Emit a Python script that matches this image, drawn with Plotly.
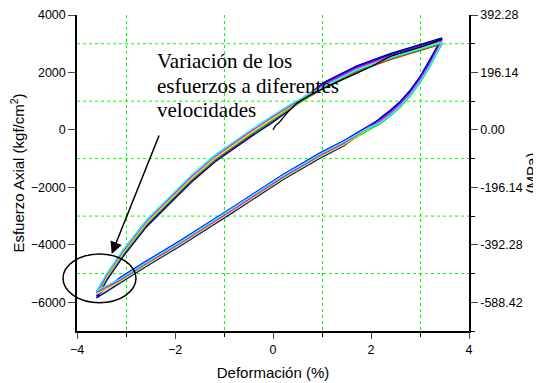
import plotly.graph_objects as go

# ---- data ----
# shared strain path of one cycle: unloading from the top tip, then reloading
loop_x = [3.45, 3.30, 3.20, 3.00, 2.80, 2.60, 2.40, 2.20, 2.00, 1.44, 0.96, 0.21, -0.81, -1.90, -2.58, -3.12, -3.60,
          -3.48, -3.39, -3.06, -2.58, -2.10, -1.66, -1.18, -0.47, 0.00, 0.35, 1.03, 1.71, 2.39, 3.07, 3.45]

stress_red = [3000, 2570, 2220, 1670, 1200, 820, 510, 250, 70, -490, -910, -1654, -2790, -3974, -4671, -5253, -5680,
              -5430, -5148, -4332, -3287, -2475, -1730, -1030, -180, 350, 750, 1450, 2030, 2450, 2810, 3000]
stress_green = [3020, 2550, 2200, 1650, 1180, 800, 490, 230, 45, -520, -940, -1684, -2820, -4004, -4701, -5283, -5700,
                -5420, -5138, -4322, -3277, -2465, -1720, -1020, -170, 360, 760, 1480, 2060, 2480, 2840, 3020]
stress_yellow = [3080, 2620, 2270, 1720, 1250, 870, 560, 300, 85, -510, -930, -1674, -2810, -3994, -4691, -5273, -5720,
                 -5380, -5098, -4282, -3237, -2425, -1680, -980, -130, 400, 800, 1540, 2120, 2540, 2900, 3080]
stress_magenta = [3110, 2650, 2300, 1750, 1280, 900, 590, 330, 120, -470, -890, -1634, -2770, -3954, -4651, -5233, -5650,
                  -5330, -5040, -4222, -3177, -2365, -1620, -920, -70, 460, 830, 1570, 2150, 2570, 2930, 3110]
stress_cyan = [3050, 2580, 2230, 1680, 1210, 830, 520, 260, 110, -420, -840, -1584, -2720, -3904, -4601, -5183, -5600,
               -5230, -4990, -4172, -3127, -2315, -1570, -870, -20, 510, 880, 1510, 2090, 2510, 2870, 3050]
stress_blue = [3170, 2710, 2360, 1810, 1340, 960, 650, 390, 195, -380, -800, -1544, -2680, -3864, -4561, -5143, -5780,
               -5450, -5168, -4352, -3307, -2495, -1750, -1050, -200, 330, 730, 1610, 2190, 2610, 2970, 3170]
stress_navy = [3200, 2750, 2400, 1850, 1380, 1000, 690, 430, 125, -560, -980, -1724, -2860, -4044, -4741, -5323, -5850,
               -5510, -5228, -4412, -3367, -2555, -1810, -1110, -260, 270, 710, 1650, 2230, 2650, 3010, 3200]

# first loading from rest
first_x = [0.00, 0.05, 0.14, 0.28, 0.48, 0.755, 1.03, 1.35, 1.71, 2.00, 2.39, 3.07, 3.45]
first_y = [0, 150, 283, 575, 924, 1213, 1446, 1700, 1969, 2200, 2560, 2920, 3150]

series = [
    ("navy", stress_navy, "#000080"),
    ("blue", stress_blue, "#0000ff"),
    ("red", stress_red, "#ff0000"),
    ("green", stress_green, "#00e000"),
    ("yellow", stress_yellow, "#e8e800"),
    ("magenta", stress_magenta, "#ff00ff"),
    ("cyan", stress_cyan, "#00ffff"),
]

mpa_ticks = [4000, 2000, 0, -2000, -4000, -6000]
mpa_labels = ["392.28", "196.14", "0.00", "-196.14", "-392.28", "-588.42"]
grid_y = [3000, 1000, -1000, -3000, -5000]
note_lines = ["Variación de los", "esfuerzos a diferentes", "velocidades"]

FONT = "Arial, Liberation Sans, sans-serif"
GRID = "#00ff00"

fig = go.Figure()
for name, ys, col in series:
    fig.add_trace(go.Scatter(x=loop_x, y=ys, mode="lines", name=name,
                             line=dict(color=col, width=1.4)))
fig.add_trace(go.Scatter(x=first_x, y=first_y, mode="lines", name="inicio", yaxis="y2",
                         line=dict(color="black", width=1.3)))

# the page body adds an 8px margin, so the figure is 8px smaller and margins shifted
fig.update_layout(
    width=533, height=375,
    margin=dict(l=69, r=72, t=7, b=52),
    paper_bgcolor="white", plot_bgcolor="white",
    showlegend=False,
    font=dict(family=FONT, size=12.5, color="black"),
    xaxis=dict(
        range=[-4, 4], tick0=-4, dtick=2, ticks="outside", ticklen=6, tickwidth=1.2,
        showline=True, linecolor="black", linewidth=1.5,
        showgrid=True, gridcolor="rgba(0,0,0,0)", zeroline=False, automargin=False,
        minor=dict(dtick=1, ticks="outside", ticklen=4, tickcolor="black", showgrid=True,
                   gridcolor=GRID, griddash="dot", gridwidth=1),
        title=dict(text="Deformación (%)", font=dict(size=15), standoff=12),
    ),
    yaxis=dict(
        range=[-7000, 4000], tick0=0, dtick=2000, ticks="outside", ticklen=7, tickwidth=1.2,
        showline=True, linecolor="black", linewidth=1.5,
        showgrid=False, zeroline=False, automargin=False,
        title=dict(text="Esfuerzo Axial (kgf/cm<sup>2</sup>)", font=dict(size=15), standoff=10),
    ),
    yaxis2=dict(
        overlaying="y", side="right", anchor="x", automargin=False,
        range=[-7000, 4000], tickmode="array", tickvals=mpa_ticks, ticktext=mpa_labels,
        ticks="outside", ticklen=7, tickwidth=1.2,
        showline=True, linecolor="black", linewidth=1.5,
        showgrid=False, zeroline=False,
        minor=dict(dtick=1000, tick0=0, ticks="outside", ticklen=4, tickcolor="black", showgrid=False),
        title=dict(text="(MPa)", font=dict(size=15), standoff=2),
    ),
)

# horizontal dotted grid at the odd thousands
for gy in grid_y:
    fig.add_shape(type="line", xref="paper", yref="y", x0=0, x1=1, y0=gy, y1=gy,
                  layer="below", line=dict(color=GRID, width=1, dash="dot"))

# text note, one annotation per line to keep the tight line spacing
for i, line in enumerate(note_lines):
    fig.add_annotation(xref="paper", yref="paper", x=0.198, y=0.853 - i * 0.077,
                       xanchor="left", yanchor="middle", showarrow=False, text=line,
                       font=dict(family="Times New Roman, Liberation Serif, serif", size=21, color="black"))

# arrow to the tip zone
fig.add_annotation(xref="paper", yref="paper", x=0.0885, y=0.2437, ax=48, ay=-120,
                   axref="pixel", ayref="pixel", text="", showarrow=True,
                   arrowhead=2, arrowsize=1.6, arrowwidth=1.5, arrowcolor="black")

# ellipse around the compression tips
fig.add_shape(type="circle", xref="paper", yref="paper",
              x0=-0.0357, x1=0.1505, y0=0.0896, y1=0.2437,
              line=dict(color="black", width=1.5))

fig.write_html("out.html")
